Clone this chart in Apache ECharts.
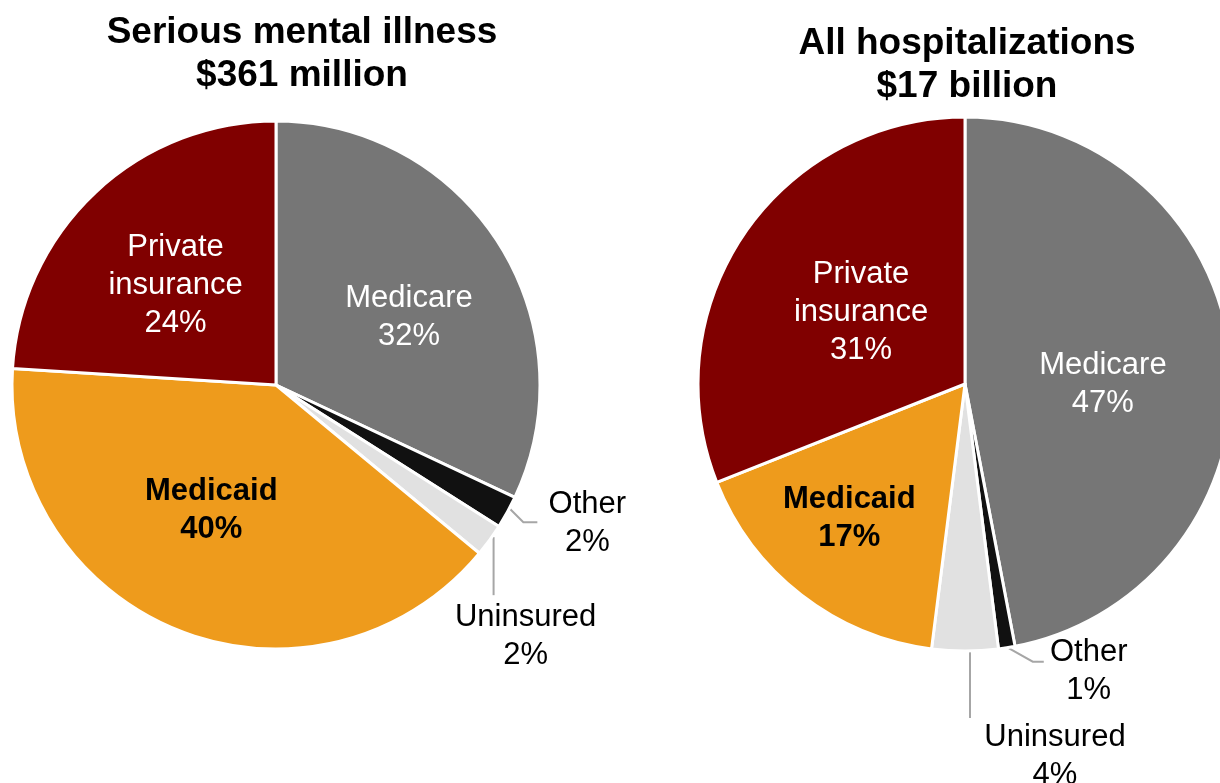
<!DOCTYPE html>
<html>
<head>
<meta charset="utf-8">
<script src="https://cdn.jsdelivr.net/npm/echarts@6/dist/echarts.min.js"></script>
<style>
  html, body { margin: 0; padding: 0; background: #fff; }
  #chart { width: 1220px; height: 783px; }
</style>
</head>
<body>
<div id="chart"></div>
<script>
// Payer shares (%) of hospital costs, clockwise from 12 o'clock
const payers = ['Medicare', 'Other', 'Uninsured', 'Medicaid', 'Private insurance'];
const smiShares = [32, 2, 2, 40, 24];
const allShares = [47, 1, 4, 17, 31];
const titles = [
  ['Serious mental illness', '$361 million'],
  ['All hospitalizations', '$17 billion']
];

const payerColors = {
  'Medicare': '#767676',
  'Other': '#111111',
  'Uninsured': '#e1e1e1',
  'Medicaid': '#ee9b1c',
  'Private insurance': '#800000'
};
const FONT = '"Liberation Sans", Arial, sans-serif';

// Label nudges per pie: inside labels get dx/dy, outside labels get a leader-line route
const labelTweaks = [
  {
    'Medicare': { dx: 19, dy: 5 },
    'Medicaid': { dx: -15, dy: 0 },
    'Private insurance': { dx: -8, dy: -1 },
    'Other': { line: [[3, -3], [16, 10], [30, 10]], label: [80, 11] },
    'Uninsured': { line: [[4, -3], [4, 26], [4, 55]], label: [36, 96] }
  },
  {
    'Medicare': { dx: 2, dy: 13 },
    'Medicaid': { dx: -32, dy: 27 },
    'Private insurance': { dx: 9, dy: 5 },
    'Other': { line: [[1, 0], [26, 14], [37, 14]], label: [82, 24] },
    'Uninsured': { line: [[5, 0], [5, 33], [5, 67]], label: [90, 105] }
  }
];

function buildData(shares) {
  return payers.map((name, i) => {
    const outside = name === 'Other' || name === 'Uninsured';
    const darkText = name === 'Medicaid' || outside;
    return {
      name: name,
      value: shares[i],
      itemStyle: { color: payerColors[name] },
      label: {
        position: outside ? 'outside' : 'inside',
        color: darkText ? '#000' : '#fff',
        fontWeight: name === 'Medicaid' ? 'bold' : 'normal'
      },
      labelLine: { show: outside }
    };
  });
}

function pieSeries(shares, center, radius, pieIdx) {
  const tweaks = labelTweaks[pieIdx];
  return {
    type: 'pie',
    center: center,
    radius: radius,
    startAngle: 90,
    clockwise: true,
    animation: false,
    silent: true,
    avoidLabelOverlap: false,
    itemStyle: { borderColor: '#fff', borderWidth: 3 },
    label: {
      show: true,
      fontFamily: FONT,
      fontSize: 31,
      lineHeight: 38,
      align: 'center',
      formatter: p => p.name.replace(' ', '\n') + '\n' + p.value + '%'
    },
    labelLine: {
      length: 15,
      length2: 15,
      lineStyle: { color: '#a6a6a6', width: 2 }
    },
    labelLayout: function (params) {
      const name = payers[params.dataIndex];
      const t = tweaks[name];
      if (!t) return {};
      if (t.line && params.labelLinePoints) {
        const p0 = params.labelLinePoints[0];
        return {
          x: p0[0] + t.label[0],
          y: p0[1] + t.label[1],
          align: 'center',
          verticalAlign: 'middle',
          labelLinePoints: t.line.map(d => [p0[0] + d[0], p0[1] + d[1]])
        };
      }
      return { dx: t.dx, dy: t.dy };
    },
    data: buildData(shares)
  };
}

function titleGraphic(lines, x, y) {
  return {
    type: 'text',
    x: x,
    y: y,
    silent: true,
    style: {
      text: lines.join('\n'),
      font: 'bold 37px ' + FONT,
      lineHeight: 43,
      fill: '#000',
      align: 'center',
      verticalAlign: 'top'
    }
  };
}

const chart = echarts.init(document.getElementById('chart'), null, { renderer: 'canvas' });
chart.setOption({
  backgroundColor: '#fff',
  animation: false,
  graphic: [
    titleGraphic(titles[0], 302, 11),
    titleGraphic(titles[1], 967, 22)
  ],
  series: [
    pieSeries(smiShares, [276, 385], 264, 0),
    pieSeries(allShares, [965, 384], 267, 1)
  ]
});
</script>
</body>
</html>
